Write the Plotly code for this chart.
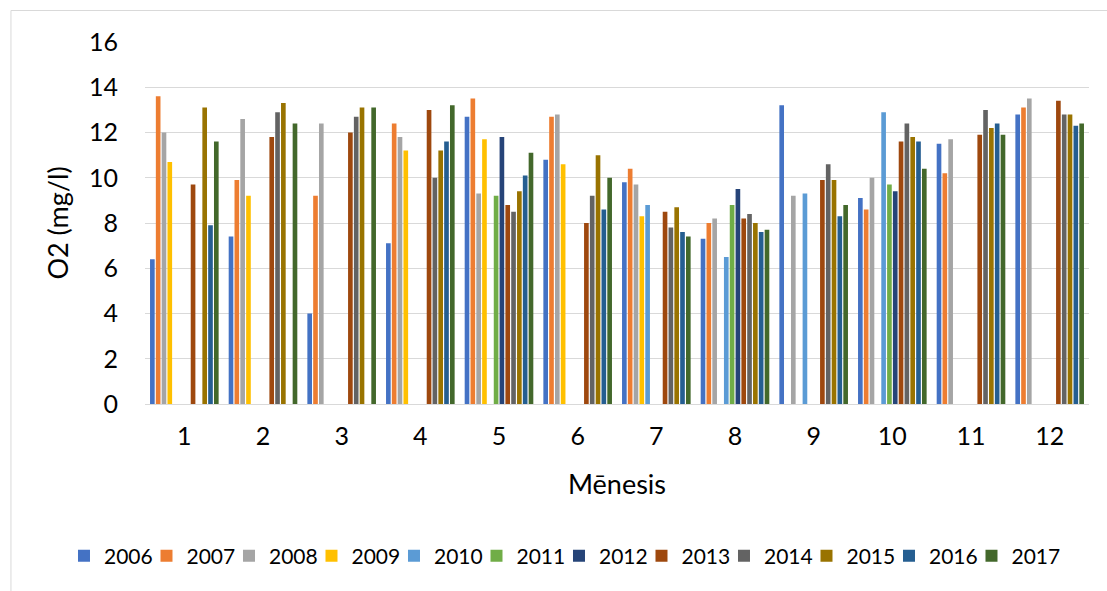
import plotly.graph_objects as go

# Monthly dissolved oxygen, mg/l (None = no measurement that month)
months = ["1", "2", "3", "4", "5", "6", "7", "8", "9", "10", "11", "12"]
years = ["2006", "2007", "2008", "2009", "2010", "2011",
         "2012", "2013", "2014", "2015", "2016", "2017"]

o2_2006 = [6.4, 7.4, 4.0, 7.1, 12.7, 10.8, 9.8, 7.3, 13.2, 9.1, 11.5, 12.8]
o2_2007 = [13.6, 9.9, 9.2, 12.4, 13.5, 12.7, 10.4, 8.0, None, 8.6, 10.2, 13.1]
o2_2008 = [12.0, 12.6, 12.4, 11.8, 9.3, 12.8, 9.7, 8.2, 9.2, 10.0, 11.7, 13.5]
o2_2009 = [10.7, 9.2, None, 11.2, 11.7, 10.6, 8.3, None, None, None, None, None]
o2_2010 = [None, None, None, None, None, None, 8.8, 6.5, 9.3, 12.9, None, None]
o2_2011 = [None, None, None, None, 9.2, None, None, 8.8, None, 9.7, None, None]
o2_2012 = [None, None, None, None, 11.8, None, None, 9.5, None, 9.4, None, None]
o2_2013 = [9.7, 11.8, 12.0, 13.0, 8.8, 8.0, 8.5, 8.2, 9.9, 11.6, 11.9, 13.4]
o2_2014 = [None, 12.9, 12.7, 10.0, 8.5, 9.2, 7.8, 8.4, 10.6, 12.4, 13.0, 12.8]
o2_2015 = [13.1, 13.3, 13.1, 11.2, 9.4, 11.0, 8.7, 8.0, 9.9, 11.8, 12.2, 12.8]
o2_2016 = [7.9, None, None, 11.6, 10.1, 8.6, 7.6, 7.6, 8.3, 11.6, 12.4, 12.3]
o2_2017 = [11.6, 12.4, 13.1, 13.2, 11.1, 10.0, 7.4, 7.7, 8.8, 10.4, 11.9, 12.4]

series = [o2_2006, o2_2007, o2_2008, o2_2009, o2_2010, o2_2011,
          o2_2012, o2_2013, o2_2014, o2_2015, o2_2016, o2_2017]

colors = ["#4472C4", "#ED7D31", "#A5A5A5", "#FFC000", "#5B9BD5", "#70AD47",
          "#264478", "#9E480E", "#636363", "#997300", "#255E91", "#43682B"]

y_ticks = [0, 2, 4, 6, 8, 10, 12, 14, 16]

FONT = "Lato, Calibri, Carlito, sans-serif"

fig = go.Figure()
for year, vals, col in zip(years, series, colors):
    fig.add_trace(go.Bar(name=year, x=months, y=vals, marker_color=col,
                         marker_line_width=0))

grid = "#D9D9D9"

fig.update_layout(
    width=1107, height=591,
    margin=dict(l=145, r=18, t=42, b=187, autoexpand=False),
    paper_bgcolor="white", plot_bgcolor="white",
    barmode="group", bargap=0.113, bargroupgap=0.2,
    font=dict(family=FONT, color="#000000", size=25),
    showlegend=True,
    legend=dict(orientation="h", x=-0.0731, xanchor="left",
                y=-0.42, yanchor="middle",
                font=dict(size=21, color="#000000"),
                entrywidth=49.5, entrywidthmode="pixels",
                itemwidth=30, indentation=-12,
                bgcolor="rgba(0,0,0,0)", traceorder="normal"),
    xaxis=dict(type="category", categoryorder="array", categoryarray=months,
               showgrid=False, showline=True, linecolor=grid, linewidth=1,
               ticks="", tickfont=dict(size=25, color="#000000"),
               ticklabelstandoff=10,
               title=dict(text="Mēnesis", font=dict(size=27, color="#000000"),
                          standoff=26)),
    yaxis=dict(range=[0, 16], tickvals=y_ticks, showgrid=True, gridcolor=grid,
               gridwidth=1, zeroline=False, showline=False, ticks="",
               tickfont=dict(size=25, color="#000000"),
               ticklabelstandoff=26,
               title=dict(text="O2 (mg/l)", font=dict(size=27, color="#000000"),
                          standoff=12)),
    shapes=[dict(type="rect", xref="paper", yref="paper",
                 x0=-0.142, x1=1.05, y0=-0.6, y1=1.087,
                 line=dict(color=grid, width=1), fillcolor="rgba(0,0,0,0)",
                 layer="below")],
)

fig.write_html("out.html")
